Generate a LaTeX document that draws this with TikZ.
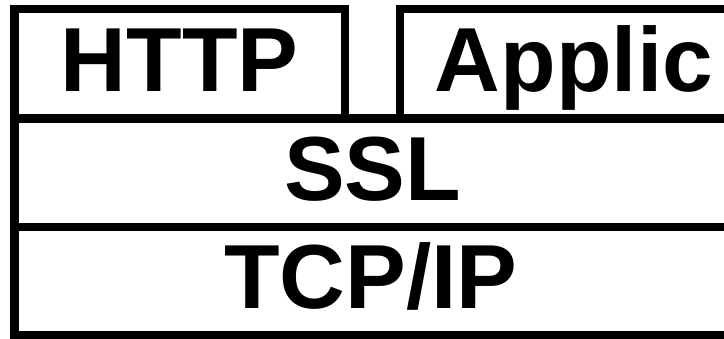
\documentclass[tikz,border=0pt]{standalone}
\usepackage{fontspec}
\setmainfont{Liberation Sans}
\begin{document}
\begin{tikzpicture}[x=1pt,y=1pt,
  layer/.style={draw=black, line width=8.5pt, rectangle, inner sep=0pt, fill=none},
  caption/.style={anchor=base, inner sep=0pt, font=\fontsize{91}{100}\selectfont\bfseries}]
  \useasboundingbox (0,0) rectangle (724,-338);
  \clip (0,0) rectangle (724,-338);
  \fill[white] (0,0) rectangle (724,-338);
  % protocol layers
  \node[layer, minimum width=330.5pt, minimum height=109.5pt] (http) at (179.75,-63.75) {};
  \node[layer, minimum width=348pt, minimum height=109.5pt] (app) at (574,-63.75) {};
  \node[layer, minimum width=716.5pt, minimum height=108.5pt] (ssl) at (372.75,-172.75) {};
  \node[layer, minimum width=716.5pt, minimum height=108pt] (tcp) at (372.75,-281) {};
  % layer names
  \node[caption] (httpT) at ([yshift=-28pt]http.center) {HTTP};
  \node[caption] (appT) at ([yshift=-28pt]app.center) {Applic};
  \node[caption] (sslT) at ([yshift=-28pt]ssl.center) {SSL};
  \node[caption] (tcpT) at ([xshift=-2pt,yshift=-27pt]tcp.center) {TCP/IP};
\end{tikzpicture}
\end{document}
